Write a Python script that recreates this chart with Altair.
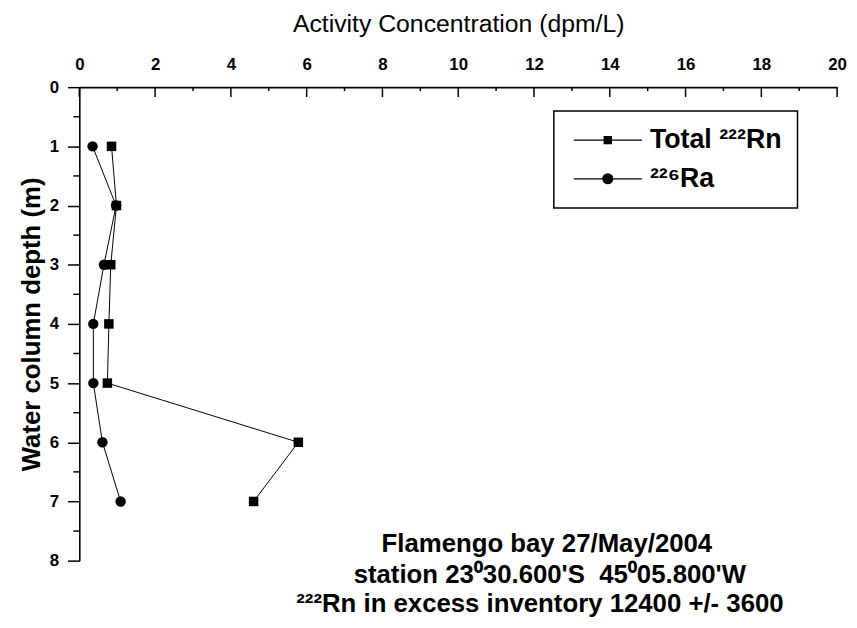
import altair as alt
import pandas as pd

# ---- data ----
depth = [1, 2, 3, 4, 5, 6, 7]
rn_total = [0.85, 0.98, 0.83, 0.78, 0.74, 5.78, 4.60]
ra226 = [0.35, 0.97, 0.65, 0.37, 0.37, 0.61, 1.09]

RN = "Total ²²²Rn"
RA = "²²⁶Ra"
series_names = [RN, RA]

x_major = [0, 2, 4, 6, 8, 10, 12, 14, 16, 18, 20]
x_minor = [1, 3, 5, 7, 9, 11, 13, 15, 17, 19]
y_major = [0, 1, 2, 3, 4, 5, 6, 7, 8]
y_minor = [0.5, 1.5, 2.5, 3.5, 4.5, 5.5, 6.5, 7.5]

note1 = "Flamengo bay 27/May/2004"
note2 = "station 23⁰30.600'S\u00a0\u00a045⁰05.800'W"
note3 = "²²²Rn in excess inventory 12400 +/- 3600"

FONT = "Liberation Sans, Arial, sans-serif"

df = pd.DataFrame({
    "depth": depth + depth,
    "value": rn_total + ra226,
    "series": [RN] * len(depth) + [RA] * len(depth),
})
rn_df = pd.DataFrame({"depth": depth, "value": rn_total})
ra_df = pd.DataFrame({"depth": depth, "value": ra226})

xs = alt.Scale(domain=[0, 20], nice=False, zero=False)
ys = alt.Scale(domain=[0, 8], reverse=True, nice=False, zero=False)

x_axis = alt.Axis(
    orient="top", values=x_major, format="d", ticks=False, grid=False,
    labelFlush=False,
    title="Activity Concentration (dpm/L)",
    labelFont=FONT, labelFontSize=17, labelFontWeight="bold", labelColor="black",
    labelPadding=14,
    titleFont=FONT, titleFontSize=25, titleFontWeight="normal", titleColor="black",
    titlePadding=19,
    domainColor="black", domainWidth=1.6,
)
y_axis = alt.Axis(
    values=y_major, format="d", grid=False, labelFlush=False,
    title="Water column depth (m)",
    tickSize=12, tickColor="black", tickWidth=1.5,
    labelFont=FONT, labelFontSize=17, labelFontWeight="bold", labelColor="black",
    labelPadding=9,
    titleFont=FONT, titleFontSize=26, titleFontWeight="bold", titleColor="black",
    titlePadding=5,
    domainColor="black", domainWidth=1.6,
)


def X(field):
    return alt.X(field, scale=xs, axis=x_axis)


def Y(field):
    return alt.Y(field, scale=ys, axis=y_axis)


lines = alt.Chart(df).mark_line(color="black", strokeWidth=1).encode(
    x=X("value:Q"), y=Y("depth:Q"), detail="series:N", order="depth:Q",
)

squares = alt.Chart(rn_df).mark_point(
    shape="square", filled=True, color="black", size=92, opacity=1
).encode(x=X("value:Q"), y=Y("depth:Q"))

circles = alt.Chart(ra_df).mark_point(
    shape="circle", filled=True, color="black", size=110, opacity=1
).encode(x=X("value:Q"), y=Y("depth:Q"))


def sq(h):
    return f"M{-h},{-h}H{h}V{h}H{-h}Z"


def ci(r):
    return f"M{r},0A{r},{r},0,1,1,{-r},0A{r},{r},0,1,1,{r},0Z"


path_rn = "M-4.3,0H4.3" + "".join(sq(h) for h in [0.45, 0.32, 0.2, 0.08])
path_ra = "M-4.3,0H4.3" + "".join(ci(r) for r in [0.62, 0.48, 0.34, 0.2, 0.07])

legend_layer = alt.Chart(df).transform_filter("false").mark_point(
    filled=False, color="black", strokeWidth=1.3, opacity=1
).encode(
    x=X("value:Q"), y=Y("depth:Q"),
    shape=alt.Shape(
        "series:N",
        scale=alt.Scale(domain=series_names, range=[path_rn, path_ra]),
        legend=alt.Legend(
            title=None, orient="none", legendX=479, legendY=24,
            direction="vertical", padding=16, rowPadding=11,
            strokeColor="black", fillColor="white",
            labelFont=FONT, labelFontSize=27, labelFontWeight="bold",
            labelColor="black", labelLimit=300,
            symbolSize=256, symbolOffset=25, labelOffset=29,
            symbolStrokeColor="black", symbolStrokeWidth=1.3,
        ),
    ),
)

x_major_ticks = alt.Chart(pd.DataFrame({"t": x_major})).mark_rule(
    color="black", strokeWidth=1.5
).encode(x=X("t:Q"), y=alt.value(0), y2=alt.value(10))

x_minor_ticks = alt.Chart(pd.DataFrame({"t": x_minor})).mark_rule(
    color="black", strokeWidth=1.5
).encode(x=X("t:Q"), y=alt.value(0), y2=alt.value(4))

y_minor_ticks = alt.Chart(pd.DataFrame({"t": y_minor})).mark_rule(
    color="black", strokeWidth=1.5
).encode(y=Y("t:Q"), x=alt.value(-6), x2=alt.value(0))


def note(text, px, py):
    return alt.Chart(alt.Data(values=[{}])).mark_text(
        text=text, font=FONT, fontSize=26, fontWeight="bold", color="black",
        align="center", baseline="middle",
    ).encode(x=alt.value(px), y=alt.value(py))


chart = alt.layer(
    lines, squares, circles, legend_layer,
    x_major_ticks, x_minor_ticks, y_minor_ticks,
    note(note1, 472, 461), note(note2, 475, 493), note(note3, 465, 522),
).properties(
    width=765, height=478,
    autosize=alt.AutoSizeParams(type="none"),
    padding={"left": 72, "top": 77, "right": 12, "bottom": 57},
).configure_view(stroke="transparent").configure_legend(strokeWidth=1.5)

chart.save("out.html", embed_options={"renderer": "svg", "actions": False})
